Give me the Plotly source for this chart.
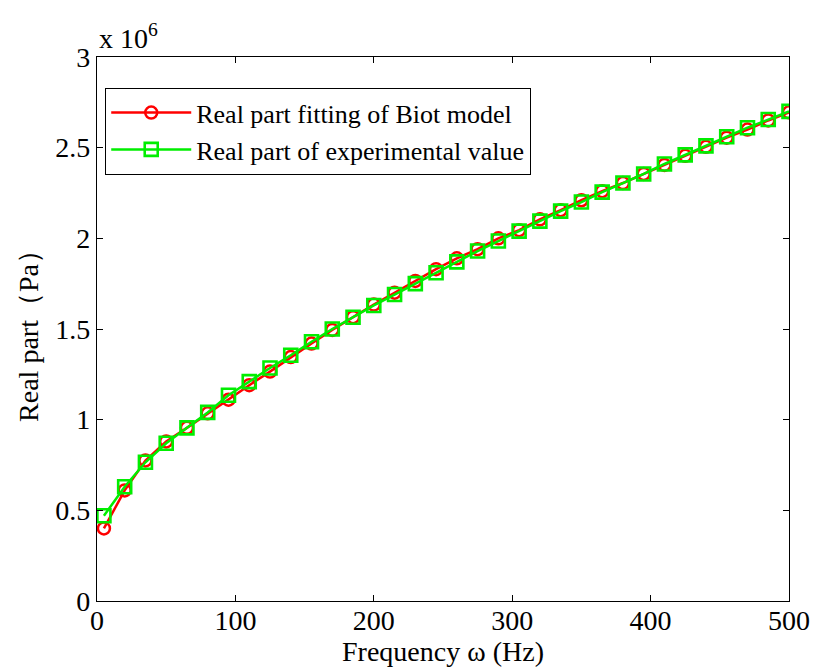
import plotly.graph_objects as go

freq = [5, 20, 35, 50, 65, 80, 95, 110, 125, 140, 155, 170, 185, 200, 215, 230, 245,
        260, 275, 290, 305, 320, 335, 350, 365, 380, 395, 410, 425, 440, 455, 470, 485, 500]

biot_fit = [0.40, 0.61, 0.775, 0.88, 0.955, 1.035, 1.11, 1.19, 1.265, 1.345, 1.42, 1.495,
            1.565, 1.635, 1.70, 1.765, 1.83, 1.89, 1.94, 2.00, 2.045, 2.105, 2.155, 2.21,
            2.26, 2.305, 2.355, 2.405, 2.455, 2.505, 2.555, 2.60, 2.65, 2.695]

experimental = [0.47, 0.63, 0.765, 0.87, 0.955, 1.04, 1.135, 1.21, 1.285, 1.355, 1.43, 1.50,
                1.565, 1.63, 1.69, 1.75, 1.81, 1.87, 1.93, 1.985, 2.04, 2.095, 2.15, 2.20,
                2.255, 2.305, 2.355, 2.41, 2.46, 2.51, 2.56, 2.61, 2.655, 2.70]

scale = 1e6
y_ticks = [0, 0.5, 1, 1.5, 2, 2.5, 3]
y_tick_labels = ["0", "0.5", "1", "1.5", "2", "2.5", "3"]
x_ticks = [0, 100, 200, 300, 400, 500]

font_family = "Liberation Serif, Times New Roman, serif"
fs = 28

fig = go.Figure()
fig.add_trace(go.Scatter(
    x=freq, y=[v * scale for v in biot_fit], mode="lines+markers",
    name="Real part fitting of Biot model",
    line=dict(color="#ff0000", width=2.5),
    marker=dict(symbol="circle-open", size=12, color="#ff0000", line=dict(width=2.5)),
))
fig.add_trace(go.Scatter(
    x=freq, y=[v * scale for v in experimental], mode="lines+markers",
    name="Real part of experimental value",
    line=dict(color="#00ee00", width=2.5),
    marker=dict(symbol="square-open", size=13, color="#00ee00", line=dict(width=2.6)),
))

axis_common = dict(showline=True, linecolor="black", linewidth=1.2, mirror="ticks",
                   ticks="inside", ticklen=6, tickcolor="black", showgrid=False,
                   zeroline=False, automargin=False,
                   tickfont=dict(family=font_family, size=fs, color="black"))

fig.update_layout(
    template="none",
    width=813, height=671,
    margin=dict(l=97, r=24, t=57, b=70),
    paper_bgcolor="white", plot_bgcolor="white",
    font=dict(family=font_family, color="black"),
    showlegend=True,
    legend=dict(x=0.0116, y=0.943, xanchor="left", yanchor="top",
                bordercolor="black", borderwidth=1.2, bgcolor="white",
                font=dict(family=font_family, size=26, color="black"),
                tracegroupgap=0, itemwidth=80),
    xaxis=dict(range=[0, 500], tickvals=x_ticks, ticklabelstandoff=-6,
               title=dict(text="Frequency ω (Hz)", font=dict(family=font_family, size=fs), standoff=3),
               **axis_common),
    yaxis=dict(range=[0, 3 * scale], tickvals=[v * scale for v in y_ticks], ticktext=y_tick_labels,
               title=dict(text="Real part（Pa）", font=dict(family=font_family, size=fs), standoff=8),
               **axis_common),
    annotations=[dict(text="x 10<sup>6</sup>", xref="paper", yref="paper", x=0.0, y=1.0,
                      xanchor="left", yanchor="bottom", showarrow=False, yshift=1,
                      font=dict(family=font_family, size=fs, color="black"))],
)

fig.write_html(
    "out.html",
    config={"displayModeBar": False},
    post_script="document.body.style.margin='0';document.documentElement.style.overflow='hidden';document.body.style.overflow='hidden';",
)
